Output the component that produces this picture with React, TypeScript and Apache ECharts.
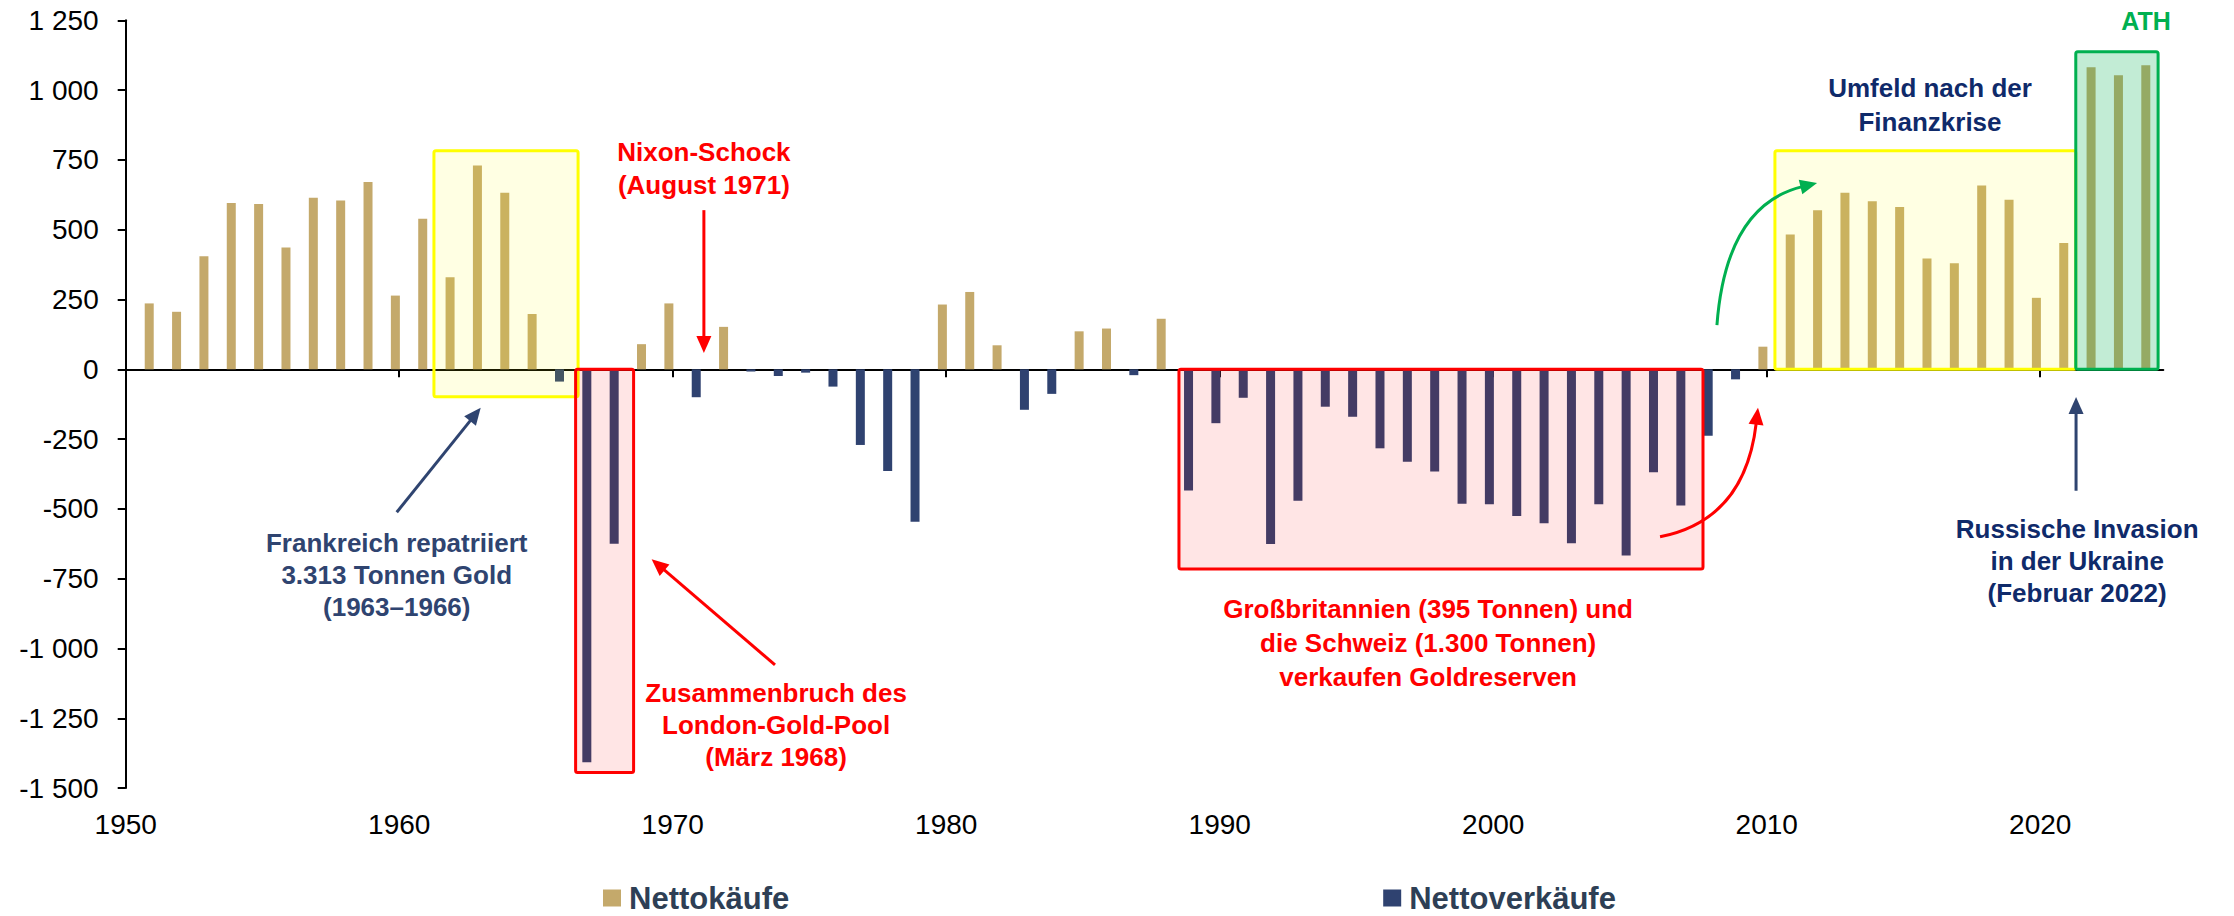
import React, { useEffect, useRef } from 'react';
import * as echarts from 'echarts';

// ---- data (tonnes, net central-bank gold flows per year) ----
const years = [
  1951, 1952, 1953, 1954, 1955, 1956, 1957, 1958, 1959, 1960,
  1961, 1962, 1963, 1964, 1965, 1966, 1967, 1968, 1969, 1970,
  1971, 1972, 1973, 1974, 1975, 1976, 1977, 1978, 1979, 1980,
  1981, 1982, 1983, 1984, 1985, 1986, 1987, 1988, 1989, 1990,
  1991, 1992, 1993, 1994, 1995, 1996, 1997, 1998, 1999, 2000,
  2001, 2002, 2003, 2004, 2005, 2006, 2007, 2008, 2009, 2010,
  2011, 2012, 2013, 2014, 2015, 2016, 2017, 2018, 2019, 2020,
  2021, 2022, 2023, 2024,
];
const netTonnes = [
  236, 206, 405, 596, 592, 436, 614, 605, 671, 264,
  539, 330, 730, 632, 198, -44, -1407, -625, 90, 236,
  -100, 152, -8, -24, -12, -62, -271, -364, -546, 232,
  277, 86, -145, -88, 136, 146, -21, 181, -434, -193,
  -102, -626, -471, -134, -170, -283, -331, -366, -482, -483,
  -525, -551, -623, -483, -667, -369, -488, -238, -36, 81,
  483, 570, 632, 602, 581, 397, 380, 658, 607, 256,
  452, 1082, 1053, 1089,
];
const tickYears = [1950, 1960, 1970, 1980, 1990, 2000, 2010, 2020];
const seriesNames = ['Nettokäufe', 'Nettoverkäufe'];

// ---- styling ----
const TAN = '#C4A96B';
const NAVY = '#2F4270';
const RED = '#FF0000';
const GREEN = '#00B050';
const DARKBLUE = '#0F2A6A';
const SLATE = '#2F4470';
const FONT = '"Liberation Sans", Arial, Helvetica, sans-serif';
const TICK_SHIFT = 0.14; // decade ticks sit slightly right of the year bars in the source
const X_MIN = 1950 + TICK_SHIFT;
const X_MAX = 2024.64;

function fmtThousands(v: number): string {
  const s = Math.abs(v).toString().replace(/\B(?=(\d{3})+(?!\d))/g, ' ');
  return (v < 0 ? '-' : '') + s;
}

// ---- annotations (in data coordinates: [year, tonnes]) ----
const boxes = [
  { x: [1961.41, 1966.68], y: [-98, 783], fill: 'rgba(255,255,0,0.11)', stroke: '#FFFF00' },
  { x: [1966.59, 1968.71], y: [-1444, 0], fill: 'rgba(255,0,0,0.10)', stroke: RED },
  { x: [1988.65, 2007.81], y: [-715, 0], fill: 'rgba(255,0,0,0.10)', stroke: RED },
  { x: [2010.44, 2021.44], y: [0, 783], fill: 'rgba(255,255,0,0.11)', stroke: '#FFFF00' },
  { x: [2021.44, 2024.45], y: [0, 1137], fill: 'rgba(0,176,80,0.24)', stroke: GREEN },
];
const labels = [
  { at: [1971.28, 719], text: 'Nixon-Schock\n(August 1971)', color: RED, lh: 33 },
  { at: [1960.05, -737], text: 'Frankreich repatriiert\n3.313 Tonnen Gold\n(1963–1966)', color: SLATE, lh: 32 },
  { at: [1973.92, -1274], text: 'Zusammenbruch des\nLondon-Gold-Pool\n(März 1968)', color: RED, lh: 32 },
  { at: [1997.76, -982], text: 'Großbritannien (395 Tonnen) und\ndie Schweiz (1.300 Tonnen)\nverkaufen Goldreserven', color: RED, lh: 34 },
  { at: [2016.11, 945], text: 'Umfeld nach der\nFinanzkrise', color: DARKBLUE, lh: 34 },
  { at: [2021.49, -686], text: 'Russische Invasion\nin der Ukraine\n(Februar 2022)', color: DARKBLUE, lh: 32 },
  { at: [2024.01, 1247], text: 'ATH', color: GREEN, lh: 30 },
];
const straightArrows = [
  { from: [1971.28, 570], to: [1971.28, 58], color: RED },
  { from: [1960.05, -512], to: [1963.12, -137.5], color: SLATE },
  { from: [1973.88, -1059], to: [1969.37, -680], color: RED },
  { from: [2021.45, -435], to: [2021.45, -99], color: SLATE },
];
const curvedArrows = [
  { from: [2006.24, -600], ctrl: [2009.35, -540], to: [2009.82, -138], color: RED },
  { from: [2008.32, 158.6], ctrl: [2008.65, 588], to: [2011.98, 667], color: GREEN },
];

export default function App() {
  const ref = useRef<HTMLDivElement>(null);

  useEffect(() => {
    if (!ref.current) return;
    const chart = echarts.init(ref.current, null, { renderer: 'svg' });

    const pairs = years.map((y, i) => [y, netTonnes[i]]);
    const buys = pairs.filter((d) => d[1] >= 0);
    const sells = pairs.filter((d) => d[1] < 0);
    const tickValues = tickYears.map((y) => y + TICK_SHIFT);

    const axisLineStyle = { color: '#000', width: 2 };

    chart.setOption({
      animation: false,
      textStyle: { fontFamily: FONT },
      grid: {
        left: 125.7,
        top: 20.3,
        right: 70.7,
        bottom: 127.9,
        containLabel: false,
        outerBoundsMode: 'none',
      },
      legend: {
        data: seriesNames,
        left: 603,
        top: 881,
        padding: 0,
        icon: 'rect',
        itemWidth: 18,
        itemHeight: 17,
        itemGap: 594,
        textStyle: {
          fontFamily: FONT,
          fontSize: 31,
          fontWeight: 'bold',
          color: '#2E3F55',
          lineHeight: 34,
          padding: [0, 0, 0, 3],
        },
      },
      xAxis: [
        {
          type: 'value',
          min: X_MIN,
          max: X_MAX,
          position: 'top',
          axisLine: { show: true, onZero: true, lineStyle: axisLineStyle },
          axisTick: {
            show: true,
            inside: true,
            length: 8,
            customValues: tickValues,
            lineStyle: axisLineStyle,
          },
          axisLabel: { show: false },
          splitLine: { show: false },
        },
        {
          type: 'value',
          min: X_MIN,
          max: X_MAX,
          position: 'bottom',
          axisLine: { show: false, onZero: false },
          axisTick: { show: false },
          axisLabel: {
            show: true,
            customValues: tickValues,
            formatter: (v: number) => String(Math.round(v)),
            fontSize: 28,
            color: '#000',
            fontFamily: FONT,
            margin: 22,
          },
          splitLine: { show: false },
        },
      ],
      yAxis: {
        type: 'value',
        min: -1500,
        max: 1250,
        interval: 250,
        axisLine: { show: true, onZero: false, lineStyle: axisLineStyle },
        axisTick: { show: true, length: 8, lineStyle: axisLineStyle },
        axisLabel: {
          fontSize: 28,
          color: '#000',
          fontFamily: FONT,
          margin: 27,
          formatter: (v: number) => fmtThousands(v),
        },
        splitLine: { show: false },
      },
      series: [
        {
          name: seriesNames[0],
          type: 'bar',
          data: buys,
          barWidth: 9,
          barGap: '-100%',
          itemStyle: { color: TAN },
        },
        {
          name: seriesNames[1],
          type: 'bar',
          data: sells,
          barWidth: 9,
          barGap: '-100%',
          itemStyle: { color: NAVY },
        },
      ],
    });

    const P = (x: number, y: number): number[] =>
      chart.convertToPixel({ gridIndex: 0 }, [x, y]) as number[];

    const graphics: any[] = [];

    boxes.forEach((b) => {
      const a = P(b.x[0], b.y[1]);
      const c = P(b.x[1], b.y[0]);
      graphics.push({
        type: 'rect',
        z: 20,
        shape: { x: a[0], y: a[1], width: c[0] - a[0], height: c[1] - a[1], r: 2 },
        style: { fill: b.fill, stroke: b.stroke, lineWidth: 3 },
      });
    });

    const head = (tip: number[], dirFrom: number[], color: string) => {
      const dx = tip[0] - dirFrom[0];
      const dy = tip[1] - dirFrom[1];
      const len = Math.hypot(dx, dy) || 1;
      const ux = dx / len;
      const uy = dy / len;
      const L = 17;
      const W = 7.5;
      const bx = tip[0] - ux * L;
      const by = tip[1] - uy * L;
      graphics.push({
        type: 'polygon',
        z: 30,
        shape: {
          points: [
            [tip[0], tip[1]],
            [bx - uy * W, by + ux * W],
            [bx + uy * W, by - ux * W],
          ],
        },
        style: { fill: color },
      });
      return [tip[0] - ux * (L - 2), tip[1] - uy * (L - 2)];
    };

    straightArrows.forEach((a) => {
      const s = P(a.from[0], a.from[1]);
      const t = P(a.to[0], a.to[1]);
      const base = head(t, s, a.color);
      graphics.push({
        type: 'line',
        z: 30,
        shape: { x1: s[0], y1: s[1], x2: base[0], y2: base[1] },
        style: { stroke: a.color, lineWidth: 3 },
      });
    });

    curvedArrows.forEach((a) => {
      const s = P(a.from[0], a.from[1]);
      const c = P(a.ctrl[0], a.ctrl[1]);
      const t = P(a.to[0], a.to[1]);
      const base = head(t, c, a.color);
      graphics.push({
        type: 'bezierCurve',
        z: 30,
        shape: { x1: s[0], y1: s[1], x2: base[0], y2: base[1], cpx1: c[0], cpy1: c[1] },
        style: { stroke: a.color, lineWidth: 3, fill: 'none' },
      });
    });

    labels.forEach((l) => {
      const p = P(l.at[0], l.at[1]);
      graphics.push({
        type: 'text',
        z: 40,
        x: p[0],
        y: p[1],
        style: {
          text: l.text,
          fill: l.color,
          fontFamily: FONT,
          fontSize: l.text === 'ATH' ? 25 : 26,
          fontWeight: 'bold',
          lineHeight: l.lh,
          align: 'center',
          verticalAlign: 'middle',
        },
      });
    });

    chart.setOption({ graphic: graphics });

    return () => chart.dispose();
  }, []);

  return (
    <div
      ref={ref}
      style={{ position: 'absolute', left: 0, top: 0, width: 2234, height: 916 }}
    />
  );
}
